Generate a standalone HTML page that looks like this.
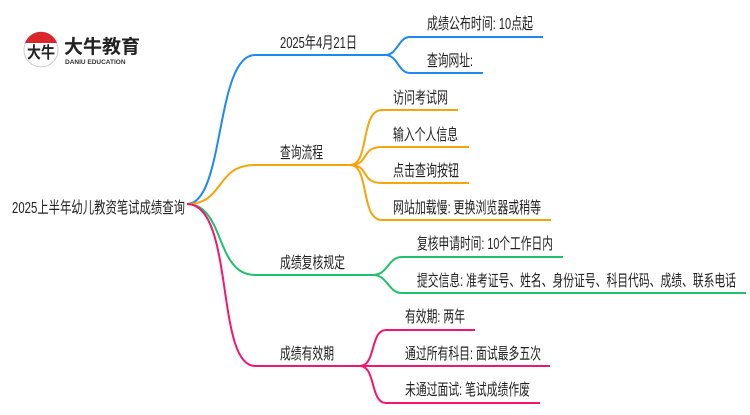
<!DOCTYPE html>
<html><head><meta charset="utf-8"><style>
body{margin:0;background:#fff;}
svg text{font-family:"Liberation Sans","Noto Sans CJK SC",sans-serif;font-size:16px;fill:#222;}
</style></head><body>
<svg width="750" height="410" viewBox="0 0 750 410" xmlns="http://www.w3.org/2000/svg">
<rect width="750" height="410" fill="#fff"/>
<circle cx="41" cy="50" r="17" fill="#fff" stroke="#ccc" stroke-width="1"/>
<path d="M25,43 A17,17 0 0 1 57,43 Z" fill="#d9252b"/>
<text x="27" y="58" style="font-size:16px;font-weight:bold;fill:#222" textLength="28" lengthAdjust="spacingAndGlyphs">大牛</text>
<text x="64" y="53" style="font-size:19px;font-weight:bold;fill:#222">大牛教育</text>
<text x="65" y="64" style="font-size:6.5px;font-weight:bold;fill:#333">DANIU EDUCATION</text>
<g fill="none" stroke-width="2">
<path d="M187,204 C225,204 215,55 255,55 L385,55" stroke="#1e88f5"/>
<path d="M385,55 C398,55 398,37 410,37 L543,37 M385,55 C398,55 398,73 410,73 L483,73" stroke="#1e88f5"/>
<path d="M187,204 C225,204 215,165 255,165 L350,165" stroke="#f5a50a"/>
<path d="M350,165 C370,165 360,110 382,110 L458,110 M350,165 C370,165 360,147 382,147 L469,147 M350,165 C370,165 360,183 382,183 L469,183 M350,165 C370,165 360,220 382,220 L551,220" stroke="#f5a50a"/>
<path d="M187,204 C225,204 215,275 255,275 L373,275" stroke="#1ec26c"/>
<path d="M373,275 C388,275 388,257 402,257 L563,257 M373,275 C388,275 388,293 402,293 L746,293" stroke="#1ec26c"/>
<path d="M187,204 C235,204 215,366 255,366 L360,366" stroke="#f5156e"/>
<path d="M360,366 C376,366 370,330 386,330 L475,330 M360,366 L550,366 M360,366 C376,366 370,403 386,403 L540,403" stroke="#f5156e"/>
</g>
<g>
<text x="12" y="213" textLength="173" lengthAdjust="spacingAndGlyphs">2025上半年幼儿教资笔试成绩查询</text>
<text x="280" y="48" textLength="77" lengthAdjust="spacingAndGlyphs">2025年4月21日</text>
<text x="427" y="29" textLength="106" lengthAdjust="spacingAndGlyphs">成绩公布时间: 10点起</text>
<text x="427" y="66" textLength="46" lengthAdjust="spacingAndGlyphs">查询网址:</text>
<text x="280" y="158" textLength="43" lengthAdjust="spacingAndGlyphs">查询流程</text>
<text x="393" y="103" textLength="55" lengthAdjust="spacingAndGlyphs">访问考试网</text>
<text x="393" y="140" textLength="65" lengthAdjust="spacingAndGlyphs">输入个人信息</text>
<text x="393" y="176" textLength="66" lengthAdjust="spacingAndGlyphs">点击查询按钮</text>
<text x="393" y="213" textLength="148" lengthAdjust="spacingAndGlyphs">网站加载慢: 更换浏览器或稍等</text>
<text x="280" y="268" textLength="65" lengthAdjust="spacingAndGlyphs">成绩复核规定</text>
<text x="417" y="249" textLength="136" lengthAdjust="spacingAndGlyphs">复核申请时间: 10个工作日内</text>
<text x="417" y="286" textLength="319" lengthAdjust="spacingAndGlyphs">提交信息: 准考证号、姓名、身份证号、科目代码、成绩、联系电话</text>
<text x="280" y="359" textLength="54" lengthAdjust="spacingAndGlyphs">成绩有效期</text>
<text x="405" y="322" textLength="60" lengthAdjust="spacingAndGlyphs">有效期: 两年</text>
<text x="405" y="359" textLength="136" lengthAdjust="spacingAndGlyphs">通过所有科目: 面试最多五次</text>
<text x="405" y="395" textLength="125" lengthAdjust="spacingAndGlyphs">未通过面试: 笔试成绩作废</text>
</g>
</svg>
</body></html>
